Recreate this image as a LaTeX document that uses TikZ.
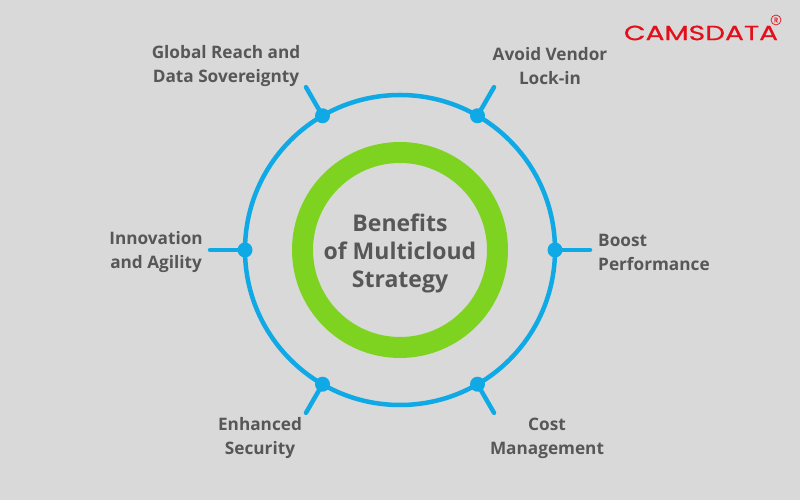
\documentclass[tikz,border=0pt]{standalone}
\usepackage{fontspec}
\setmainfont{Open Sans}
\newfontfamily\logofont[FakeBold=0.6]{Poppins}
\usetikzlibrary{positioning, calc}

\definecolor{bggray}{HTML}{D9D9D9}
\definecolor{ringblue}{HTML}{0FA9E6}
\definecolor{ringgreen}{HTML}{7ED321}
\definecolor{textgray}{HTML}{575757}
\definecolor{logored}{HTML}{E30F1B}

\begin{document}
\begin{tikzpicture}[
x=1pt, y=1pt,
benefit/.style={text=textgray, font=\fontsize{17.2}{24}\selectfont\bfseries, align=center, inner sep=0pt},
dot/.style={circle, fill=ringblue, minimum size=15pt, inner sep=0pt},
tick/.style={draw=ringblue, line width=4.5pt, line cap=round}]
    \fill[bggray] (0,0) rectangle (800,500);
    \useasboundingbox (0,0) rectangle (800,500);

    \coordinate (center) at (400,250);
    \draw[ringblue, line width=4.5pt] (center) circle (155);
    \draw[ringgreen, line width=21pt] (center) circle (97.5);
    \node[benefit, font=\fontsize{23}{28}\selectfont\bfseries] (title) at (400,247) {Benefits\\of Multicloud\\Strategy};

    % dots on the ring, one free end each
    \foreach \name/\angle/\len in {global/120/188, vendor/60/188, innovation/180/190, boost/0/190, security/240/188, cost/300/188} {
        \draw[tick] ($(center)+(\angle:155)$) -- ($(center)+(\angle:\len)$) coordinate (\name_end);
        \node[dot] (\name_dot) at ($(center)+(\angle:155)$) {};
    }

    \node[benefit] (global) at (226,434) {Global Reach and\\Data Sovereignty};
    \node[benefit] (vendor) at (550,434) {Avoid Vendor\\Lock-in};
    \node[benefit, left=7pt of innovation_end, yshift=-2pt] (innovation) {Innovation\\and Agility};
    \node[benefit, align=left, right=8pt of boost_end, yshift=-2pt] (boost) {Boost\\Performance};
    \node[benefit] (security) at (260,62) {Enhanced\\Security};
    \node[benefit] (cost) at (547,62) {Cost\\Management};

    \node[text=logored, font=\logofont\fontsize{20.5}{20}\selectfont, inner sep=0pt, transform shape, xscale=1.37] (logo) at (701,467) {CAMSDATA};
    \node[circle, draw=logored, line width=0.7pt, text=logored, font=\logofont\fontsize{6.5}{7}\selectfont, inner sep=0.6pt, minimum size=10pt] (reg) at (776,480) {R};
\end{tikzpicture}
\end{document}
